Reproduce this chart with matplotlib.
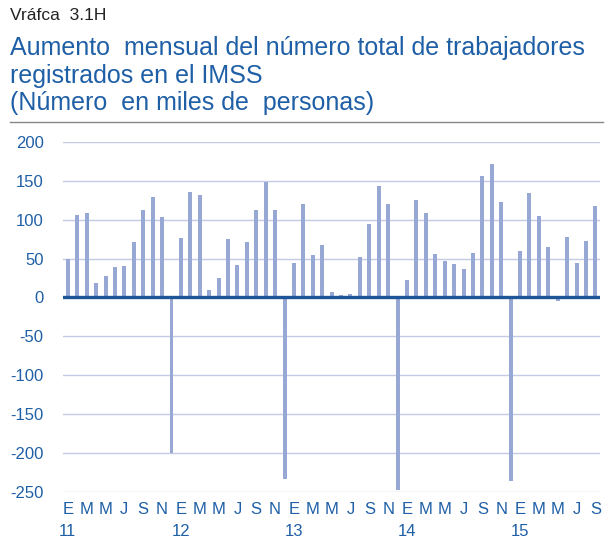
import matplotlib
matplotlib.use('Agg')
import matplotlib.pyplot as plt

plt.rcParams['font.family'] = ['Liberation Sans', 'DejaVu Sans']
plt.rcParams['axes.unicode_minus'] = False

# Datos: aumento mensual, ene-2011 a sep-2015 (miles de personas)
valores = [49, 106, 109, 19, 28, 39, 41, 71, 113, 129, 104, -200,
           77, 135, 132, 10, 25, 75, 42, 71, 113, 149, 113, -233,
           44, 120, 54, 67, 7, 3, 5, 52, 94, 143, 120, -248,
           22, 125, 108, 56, 47, 43, 37, 57, 156, 172, 123, -236,
           60, 134, 105, 65, -5, 78, 44, 72, 117]
meses = ['E', 'M', 'M', 'J', 'S', 'N']
anios = ['11', '12', '13', '14', '15']

azul = '#1f5fa6'
barra = '#97a8d4'
rejilla = '#c3cbe5'

fig = plt.figure(figsize=(6.13, 5.52), dpi=100)
ax = fig.add_axes([0.103, 0.109, 0.876, 0.634])

x = list(range(len(valores)))
ax.bar(x, valores, width=0.42, color=barra, zorder=2)
ax.axhline(0, color='#1d5596', lw=2.4, zorder=3)

ax.set_ylim(-250, 200)
ax.set_xlim(-0.5, len(valores) - 0.5)
ax.set_yticks(range(-250, 201, 50))
ax.yaxis.grid(True, color=rejilla, lw=1, zorder=0)
ax.tick_params(axis='y', length=0, pad=14, labelsize=12, labelcolor=azul)

pos = list(range(0, len(valores), 2))
etiquetas = []
for p in pos:
    m = meses[(p % 12) // 2]
    if p % 12 == 0:
        m = m + '\n' + anios[p // 12]
    etiquetas.append(m)
ax.set_xticks(pos)
ax.set_xticklabels(etiquetas, linespacing=1.65)
ax.tick_params(axis='x', length=0, pad=7, labelsize=12, labelcolor=azul)
for lab in ax.get_xticklabels():
    lab.set_verticalalignment('top')

for s in ax.spines.values():
    s.set_visible(False)

# Encabezado
fig.text(0.016, 0.985, 'Vráfca  3.1H', fontsize=12.5, color='#222222', va='top')
fig.text(0.016, 0.935, 'Aumento  mensual del número total de trabajadores\n'
         'registrados en el IMSS\n(Número  en miles de  personas)',
         fontsize=18, color=azul, va='top', linespacing=1.2)
fig.add_artist(plt.Line2D([0.016, 0.984], [0.779, 0.779], color='#888888', lw=1))

plt.savefig('out.png', dpi=100)
